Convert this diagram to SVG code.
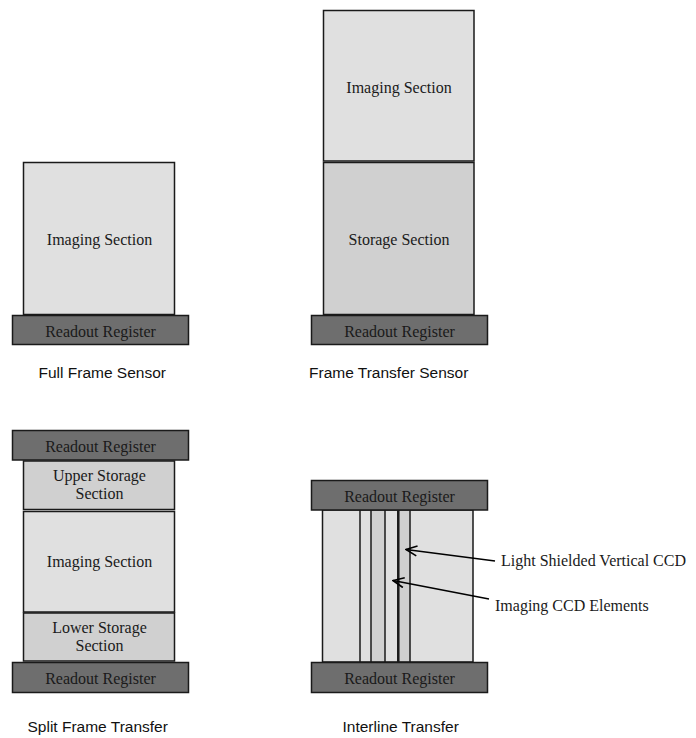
<svg xmlns="http://www.w3.org/2000/svg" width="696" height="738" viewBox="0 0 696 738">
  <style>
    .img { fill: #e0e0e0; stroke: #1a1a1a; stroke-width: 1.5; }
    .sto { fill: #d0d0d0; stroke: #1a1a1a; stroke-width: 1.5; }
    .reg { fill: #6e6e6e; stroke: #1a1a1a; stroke-width: 1.5; }
    .sep { stroke: #1a1a1a; stroke-width: 1.5; fill: none; }
    .lbl { font-family: "Liberation Serif", "Times New Roman", serif; font-size: 16px; fill: #1a1a1a; }
    .mid { text-anchor: middle; }
    .cap { font-family: "Liberation Sans", Arial, sans-serif; font-size: 15.5px; fill: #111; }
    .arrow { stroke: #000; stroke-width: 1.5; fill: none; }
  </style>
  <defs>
    <!-- open V arrowhead, tip at the end of the line -->
    <marker id="vhead" viewBox="0 0 14 12" refX="13" refY="6" markerWidth="14" markerHeight="12" markerUnits="userSpaceOnUse" orient="auto">
      <path d="M2,1 L13,6 L2,11" fill="none" stroke="#000" stroke-width="1.6"/>
    </marker>
  </defs>
  <rect width="696" height="738" fill="#ffffff"/>

  <!-- Full frame sensor -->
  <g id="full-frame">
    <rect class="img" x="23.5" y="162.5" width="151" height="152"/>
    <text class="lbl mid" x="99.5" y="245">Imaging Section</text>
    <rect class="reg" x="12.5" y="315.5" width="176" height="29"/>
    <text class="lbl mid" x="100.5" y="336.5">Readout Register</text>
    <text class="cap" x="38.5" y="377.5">Full Frame Sensor</text>
  </g>

  <!-- Frame transfer sensor -->
  <g id="frame-transfer">
    <rect class="img" x="323.5" y="10.5" width="150.5" height="150.5"/>
    <text class="lbl mid" x="399" y="93">Imaging Section</text>
    <rect class="sto" x="323.5" y="162.5" width="150.5" height="152"/>
    <text class="lbl mid" x="399" y="245">Storage Section</text>
    <rect class="reg" x="311.5" y="315.5" width="176" height="29"/>
    <text class="lbl mid" x="399.5" y="336.5">Readout Register</text>
    <text class="cap" x="309" y="377.5">Frame Transfer Sensor</text>
  </g>

  <!-- Split frame transfer -->
  <g id="split-frame">
    <rect class="reg" x="12.5" y="430.5" width="176" height="29.5"/>
    <text class="lbl mid" x="100.5" y="451.5">Readout Register</text>
    <rect class="sto" x="23.5" y="461" width="151" height="48.5"/>
    <text class="lbl mid" x="99.5" y="481">Upper Storage</text>
    <text class="lbl mid" x="99.5" y="498.5">Section</text>
    <rect class="img" x="23.5" y="511.5" width="151" height="100.5"/>
    <text class="lbl mid" x="99.5" y="567">Imaging Section</text>
    <rect class="sto" x="23.5" y="613" width="151" height="48"/>
    <text class="lbl mid" x="99.5" y="633">Lower Storage</text>
    <text class="lbl mid" x="99.5" y="650.5">Section</text>
    <rect class="reg" x="12.5" y="662.5" width="176" height="30"/>
    <text class="lbl mid" x="100.5" y="683.5">Readout Register</text>
    <text class="cap" x="27.5" y="731.5">Split Frame Transfer</text>
  </g>

  <!-- Interline transfer -->
  <g id="interline">
    <rect class="img" x="322.5" y="510" width="150.5" height="152"/>
    <rect class="sto" x="371" y="510" width="14" height="152"/>
    <rect class="sto" x="398" y="510" width="12" height="152"/>
    <line class="sep" x1="360" y1="510" x2="360" y2="662"/>
    <line class="sep" x1="398.3" y1="510" x2="398.3" y2="662" style="stroke-width:2.5"/>
    <rect class="reg" x="311.5" y="480.5" width="176" height="29.5"/>
    <text class="lbl mid" x="399.5" y="501.5">Readout Register</text>
    <rect class="reg" x="311.5" y="662.5" width="176" height="30"/>
    <text class="lbl mid" x="399.5" y="683.5">Readout Register</text>
    <text class="cap" x="342.5" y="731.5">Interline Transfer</text>
  </g>

  <g id="callout-labels">
    <text class="lbl" x="501" y="566">Light Shielded Vertical CCD</text>
    <text class="lbl" x="495" y="611">Imaging CCD Elements</text>
  </g>

  <g id="connectors">
    <line class="arrow" x1="495" y1="561" x2="406" y2="549.5" marker-end="url(#vhead)"/>
    <line class="arrow" x1="489" y1="599" x2="393" y2="580.5" marker-end="url(#vhead)"/>
  </g>
</svg>
